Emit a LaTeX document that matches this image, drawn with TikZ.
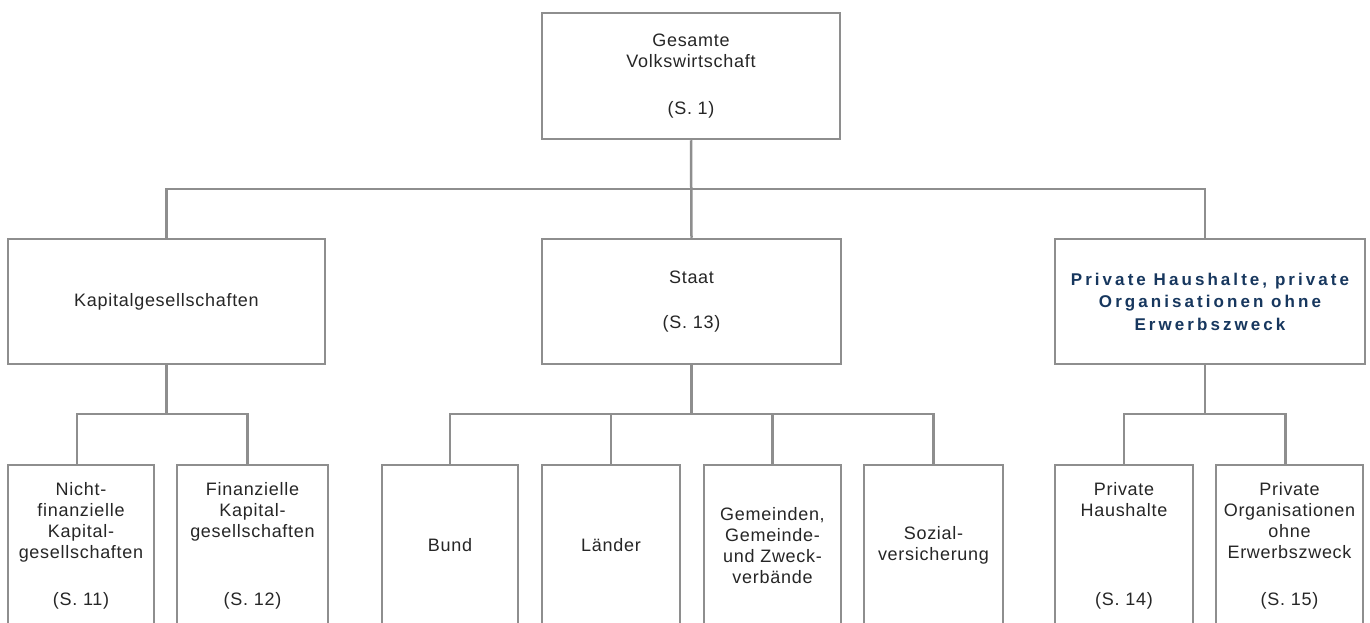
\documentclass[tikz,border=0pt]{standalone}
\usepackage{fontspec}
\setmainfont{Liberation Sans}
\newfontfamily\normls[LetterSpace=4]{Liberation Sans}
\newfontfamily\boldls[LetterSpace=18]{Liberation Sans}
\definecolor{linegray}{HTML}{8E8E8E}
\definecolor{navy}{HTML}{17375E}
\begin{document}
\begin{tikzpicture}[x=1pt,y=-1pt,
  box/.style={draw=linegray, line width=2.5pt, fill=white, inner sep=0pt, align=center,
    font=\normls\fontsize{18}{21}\selectfont, text=black!85},
  bbox/.style={box, font=\boldls\bfseries\fontsize{17}{22.5}\selectfont, text=navy},
  conn/.style={draw=linegray, line width=2.5pt}]
\useasboundingbox (0,0) rectangle (1370,623);
\fill[white] (0,0) rectangle (1370,623);
\clip (0,0) rectangle (1370,623);

% level 1
\node[box, minimum width=298pt, minimum height=126pt] (s1) at (691,76)
  {Gesamte\\Volkswirtschaft\\[26pt](S. 1)};

% level 2
\node[box, minimum width=317pt, minimum height=125pt] (kap) at (166.5,301.5)
  {Kapitalgesellschaften};
\node[box, minimum width=299pt, minimum height=125pt] (staat) at (691.5,301.5)
  {Staat\\[24pt](S. 13)};
\node[bbox, minimum width=310pt, minimum height=125pt] (priv) at (1210,301.5)
  {Private Haushalte, private\\Organisationen ohne\\Erwerbszweck};

% level 3
\node[box, minimum width=146pt, minimum height=161pt] (nf) at (81,545.5)
  {Nicht-\\finanzielle\\Kapital-\\gesellschaften\\[26pt](S. 11)};
\node[box, minimum width=151pt, minimum height=161pt] (fk) at (252.5,545.5)
  {Finanzielle\\Kapital-\\gesellschaften\\[47pt](S. 12)};
\node[box, minimum width=136pt, minimum height=161pt] (bund) at (450,545.5)
  {Bund};
\node[box, minimum width=138pt, minimum height=161pt] (laender) at (611,545.5)
  {Länder};
\node[box, minimum width=137pt, minimum height=161pt] (gem) at (772.5,545.5)
  {Gemeinden,\\Gemeinde-\\und Zweck-\\verbände};
\node[box, minimum width=139pt, minimum height=161pt] (soz) at (933.5,545.5)
  {Sozial-\\versicherung};
\node[box, minimum width=138pt, minimum height=161pt] (ph) at (1124,545.5)
  {Private\\Haushalte\\[68pt](S. 14)};
\node[box, minimum width=147pt, minimum height=161pt] (po) at (1289.5,545.5)
  {Private\\Organisationen\\ohne\\Erwerbszweck\\[26pt](S. 15)};

% junctions
\coordinate (j1) at (691,189);
\coordinate (j2) at (166.5,414);
\coordinate (j3) at (691.5,414);
\coordinate (j4) at (1205,414);

% connectors
\draw[conn] (s1.south) -- (staat.north);
\draw[conn] (kap.north) |- (j1) -| ([xshift=-5pt]priv.north);

\draw[conn] (kap.south) -- (j2);
\draw[conn] ([xshift=-4pt]nf.north) |- (j2) -| ([xshift=-5pt]fk.north);

\draw[conn] (staat.south) -- (j3);
\draw[conn] (bund.north) |- (j3) -| (soz.north);
\draw[conn] (laender.north) -- (laender.north |- j3);
\draw[conn] (gem.north) -- (gem.north |- j3);

\draw[conn] ([xshift=-5pt]priv.south) -- (j4);
\draw[conn] (ph.north) |- (j4) -| ([xshift=-4pt]po.north);
\end{tikzpicture}
\end{document}
